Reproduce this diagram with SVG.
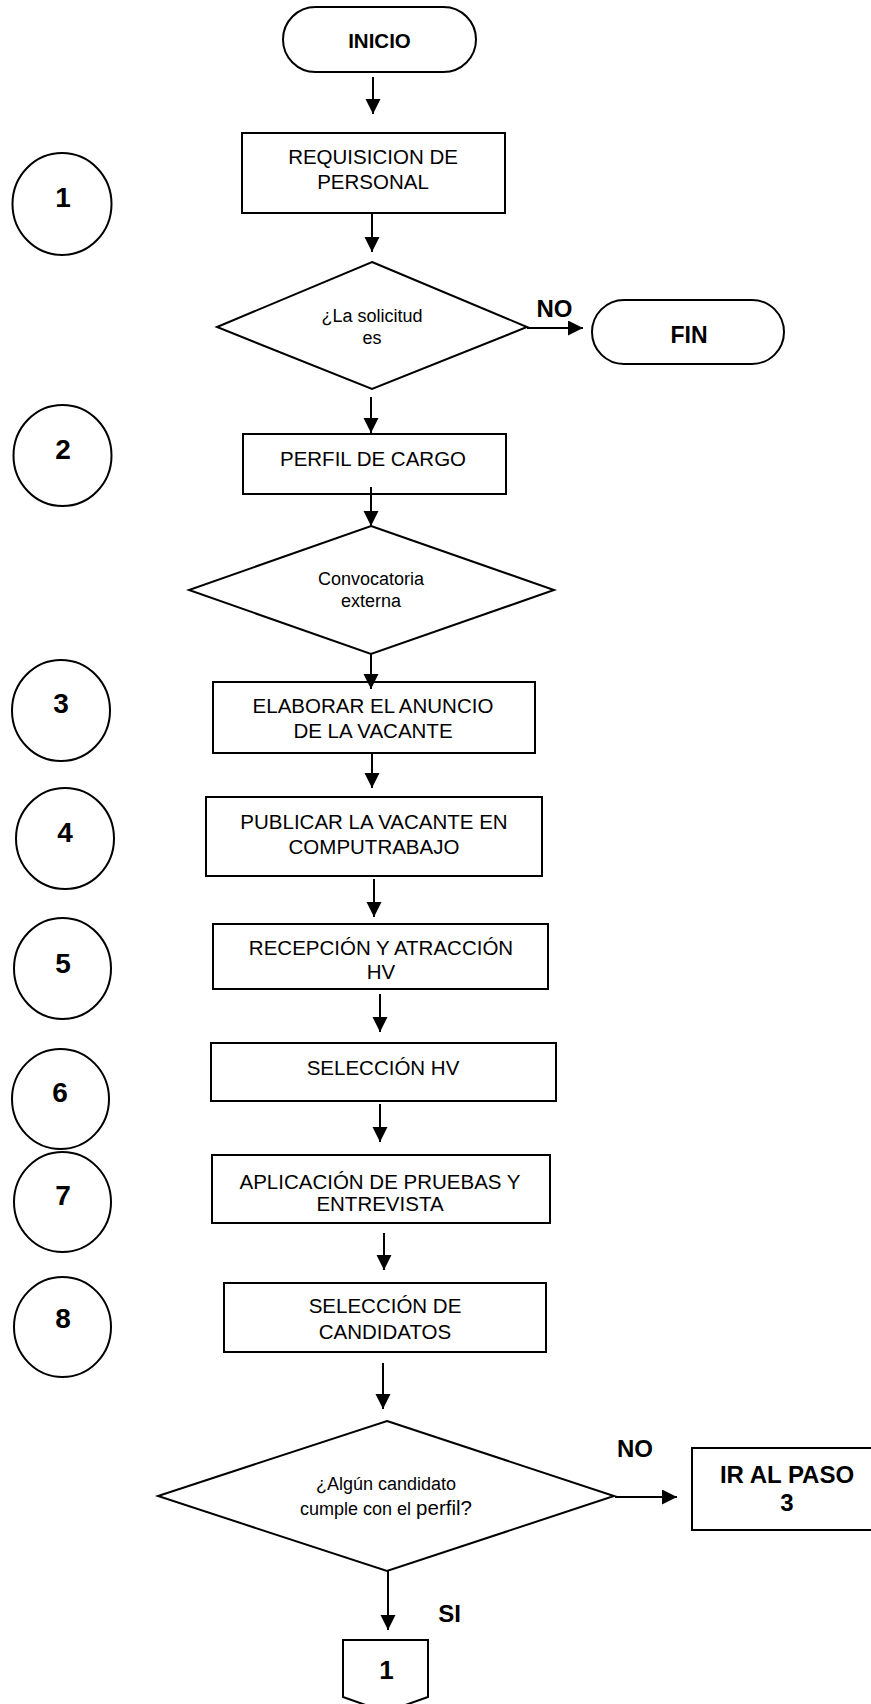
<svg xmlns="http://www.w3.org/2000/svg" width="871" height="1704" viewBox="0 0 871 1704">
  <style>
    .shape { fill: #ffffff; stroke: #000000; stroke-width: 2; }
    .wire { fill: none; stroke: #000000; stroke-width: 2; }
    .txt { font-family: "Liberation Sans", Arial, sans-serif; font-size: 20.5px; fill: #000000; text-anchor: middle; }
    .ask { font-family: "Liberation Sans", Arial, sans-serif; font-size: 18px; fill: #000000; text-anchor: middle; }
    .bold { font-family: "Liberation Sans", Arial, sans-serif; font-weight: bold; fill: #000000; text-anchor: middle; }
    .num { font-size: 28px; }
    .lbl { font-size: 24px; }
  </style>
  <defs>
    <marker id="arrow" markerUnits="userSpaceOnUse" markerWidth="16" markerHeight="16" refX="15" refY="7.5" orient="auto">
      <path d="M0,0 L15,7.5 L0,15 Z" fill="#000000"/>
    </marker>
  </defs>

  <rect width="871" height="1704" fill="#ffffff"/>

  <!-- step numbers -->
  <g id="step-1"><ellipse class="shape" cx="62" cy="204" rx="49.5" ry="51"/><text class="bold num" x="63" y="207">1</text></g>
  <g id="step-2"><ellipse class="shape" cx="62.5" cy="455.5" rx="49" ry="50.5"/><text class="bold num" x="63" y="459">2</text></g>
  <g id="step-3"><ellipse class="shape" cx="61" cy="710.5" rx="49" ry="50.5"/><text class="bold num" x="61" y="713">3</text></g>
  <g id="step-4"><ellipse class="shape" cx="65" cy="838.5" rx="49" ry="50.5"/><text class="bold num" x="65" y="842">4</text></g>
  <g id="step-5"><ellipse class="shape" cx="62.5" cy="968.5" rx="48.5" ry="50.5"/><text class="bold num" x="63" y="973">5</text></g>
  <g id="step-6"><ellipse class="shape" cx="60.5" cy="1099" rx="48.5" ry="50"/><text class="bold num" x="60" y="1102">6</text></g>
  <g id="step-7"><ellipse class="shape" cx="62.5" cy="1202" rx="48.5" ry="50"/><text class="bold num" x="63" y="1205">7</text></g>
  <g id="step-8"><ellipse class="shape" cx="62.5" cy="1327" rx="48.5" ry="50"/><text class="bold num" x="63" y="1328">8</text></g>

  <!-- flow nodes -->
  <g id="inicio">
    <rect class="shape" x="283" y="7" width="193" height="65" rx="32.5" ry="32.5"/>
    <text class="bold" font-size="20.5" x="379.5" y="48">INICIO</text>
  </g>
  <g id="requisicion">
    <rect class="shape" x="242" y="133" width="263" height="80"/>
    <text class="txt" x="373" y="164">REQUISICION DE</text>
    <text class="txt" x="373" y="189">PERSONAL</text>
  </g>
  <g id="decision-solicitud">
    <polygon class="shape" points="372,262 527,327 372,389 217,327"/>
    <text class="ask" x="372" y="322">¿La solicitud</text>
    <text class="ask" x="372" y="344">es</text>
  </g>
  <g id="fin">
    <rect class="shape" x="592" y="300" width="192" height="64" rx="32" ry="32"/>
    <text class="bold" font-size="23" x="689" y="343">FIN</text>
  </g>
  <g id="perfil">
    <rect class="shape" x="243" y="434" width="263" height="60"/>
    <text class="txt" x="373" y="466">PERFIL DE CARGO</text>
  </g>
  <g id="decision-convocatoria">
    <polygon class="shape" points="371,526 554,590 371,654 189,590"/>
    <text class="ask" x="371" y="585">Convocatoria</text>
    <text class="ask" x="371" y="607">externa</text>
  </g>
  <g id="elaborar">
    <rect class="shape" x="213" y="682" width="322" height="71"/>
    <text class="txt" x="373" y="713">ELABORAR EL ANUNCIO</text>
    <text class="txt" x="373" y="738">DE LA VACANTE</text>
  </g>
  <g id="publicar">
    <rect class="shape" x="206" y="797" width="336" height="79"/>
    <text class="txt" x="374" y="829">PUBLICAR LA VACANTE EN</text>
    <text class="txt" x="374" y="854">COMPUTRABAJO</text>
  </g>
  <g id="recepcion">
    <rect class="shape" x="213" y="924" width="335" height="65"/>
    <text class="txt" x="381" y="955">RECEPCIÓN Y ATRACCIÓN</text>
    <text class="txt" x="381" y="979">HV</text>
  </g>
  <g id="seleccion-hv">
    <rect class="shape" x="211" y="1043" width="345" height="58"/>
    <text class="txt" x="383" y="1075">SELECCIÓN HV</text>
  </g>
  <g id="aplicacion">
    <rect class="shape" x="212" y="1155" width="338" height="68"/>
    <text class="txt" x="380" y="1189">APLICACIÓN DE PRUEBAS Y</text>
    <text class="txt" x="380" y="1211">ENTREVISTA</text>
  </g>
  <g id="seleccion-candidatos">
    <rect class="shape" x="224" y="1283" width="322" height="69"/>
    <text class="txt" x="385" y="1313">SELECCIÓN DE</text>
    <text class="txt" x="385" y="1339">CANDIDATOS</text>
  </g>
  <g id="decision-candidato">
    <polygon class="shape" points="387,1421 614,1496 387,1571 158,1496"/>
    <text class="ask" font-size="17.3" x="386" y="1490">¿Algún candidato</text>
    <text class="ask" font-size="17.3" x="386" y="1515">cumple con el <tspan font-size="20.5">perfil?</tspan></text>
  </g>
  <g id="ir-paso-3">
    <rect class="shape" x="692" y="1448" width="190" height="82"/>
    <text class="bold lbl" x="787" y="1483">IR AL PASO</text>
    <text class="bold lbl" x="787" y="1511">3</text>
  </g>
  <g id="conector-1">
    <polygon class="shape" points="343,1640 428,1640 428,1697 385.5,1712 343,1697"/>
    <text class="bold" font-size="26" x="386.5" y="1679">1</text>
  </g>

  <!-- connectors -->
  <g id="connectors">
    <line class="wire" x1="373" y1="77" x2="373" y2="114" marker-end="url(#arrow)"/>
    <line class="wire" x1="372" y1="213" x2="372" y2="252" marker-end="url(#arrow)"/>
    <line class="wire" x1="527" y1="328" x2="583" y2="328" marker-end="url(#arrow)"/>
    <line class="wire" x1="371" y1="397" x2="371" y2="433" marker-end="url(#arrow)"/>
    <line class="wire" x1="371" y1="487" x2="371" y2="526" marker-end="url(#arrow)"/>
    <line class="wire" x1="371" y1="654" x2="371" y2="689" marker-end="url(#arrow)"/>
    <line class="wire" x1="372" y1="753" x2="372" y2="788" marker-end="url(#arrow)"/>
    <line class="wire" x1="374" y1="879" x2="374" y2="917" marker-end="url(#arrow)"/>
    <line class="wire" x1="380" y1="994" x2="380" y2="1032" marker-end="url(#arrow)"/>
    <line class="wire" x1="380" y1="1104" x2="380" y2="1142" marker-end="url(#arrow)"/>
    <line class="wire" x1="384" y1="1233" x2="384" y2="1270" marker-end="url(#arrow)"/>
    <line class="wire" x1="383" y1="1363" x2="383" y2="1409" marker-end="url(#arrow)"/>
    <line class="wire" x1="615" y1="1497" x2="677" y2="1497" marker-end="url(#arrow)"/>
    <line class="wire" x1="388" y1="1571" x2="388" y2="1630" marker-end="url(#arrow)"/>
    <text class="bold lbl" x="554.5" y="317">NO</text>
    <text class="bold lbl" x="635" y="1457">NO</text>
    <text class="bold lbl" x="449.5" y="1622">SI</text>
  </g>
</svg>
